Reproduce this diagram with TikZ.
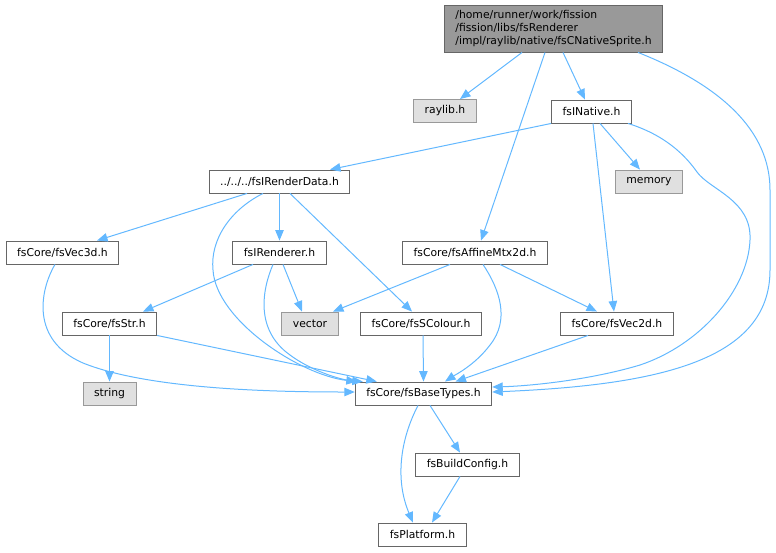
\documentclass[tikz,border=0pt]{standalone}
\usepackage{fontspec}
\setmainfont{DejaVu Sans}
\usetikzlibrary{arrows.meta}
\definecolor{cborder}{HTML}{666666}
\definecolor{cgrayb}{HTML}{999999}
\definecolor{cgrayf}{HTML}{E0E0E0}
\definecolor{croot}{HTML}{999999}
\definecolor{cedge}{HTML}{63B8FF}
\tikzset{
  box/.style={draw=cborder, fill=white, line width=0.9pt, font=\fontsize{10.8}{12.8}\selectfont,
    inner xsep=11pt, inner ysep=0pt, minimum height=23pt},
  graybox/.style={box, draw=cgrayb, fill=cgrayf},
  rootbox/.style={box, fill=croot, align=left, minimum height=47pt},
  dep/.style={draw=cedge, line width=1pt, -{Triangle[length=10.5pt,width=8.5pt]}}
}
\begin{document}
\begin{tikzpicture}[x=1pt,y=-1pt]
\useasboundingbox (0,0) rectangle (776,552);
% nodes
\node[rootbox] (root) at (553.5,28.5) {/home/runner/work/fission\\/fission/libs/fsRenderer\\/impl/raylib/native/fsCNativeSprite.h};
\node[graybox] (raylib) at (445,111) {raylib.h};
\node[box] (native) at (591.5,111.5) {fsINative.h};
\node[box] (rdata) at (279.5,181.5) {../../../fsIRenderData.h};
\node[graybox] (memory) at (649,181.5) {memory};
\node[box] (vec3d) at (62.5,252.5) {fsCore/fsVec3d.h};
\node[box] (renderer) at (279.5,252.5) {fsIRenderer.h};
\node[box] (affine) at (475,252.5) {fsCore/fsAffineMtx2d.h};
\node[box] (str) at (109.5,323.5) {fsCore/fsStr.h};
\node[graybox] (vector) at (310,323.5) {vector};
\node[box] (scolour) at (421,323.5) {fsCore/fsSColour.h};
\node[box] (vec2d) at (617,323.5) {fsCore/fsVec2d.h};
\node[graybox] (string) at (109.5,393.5) {string};
\node[box] (base) at (423.5,393.5) {fsCore/fsBaseTypes.h};
\node[box] (build) at (467.5,464.5) {fsBuildConfig.h};
\node[box] (platform) at (422.5,534.5) {fsPlatform.h};
% edges from root
\draw[dep] ([xshift=-31.5pt]root.south) -- ([xshift=15pt]raylib.north);
\draw[dep] ([xshift=9.5pt]root.south) -- ([xshift=-6.5pt]native.north);
\draw[dep] ([xshift=-8.5pt]root.south) -- ([xshift=6pt]affine.north);
\draw[dep] ([xshift=84.5pt]root.south) .. controls (720,85) and (770,130) .. (770,190)
  -- (770,270) .. controls (770,360) and (660,385) .. ([yshift=1.5pt]base.east);
% edges from fsINative
\draw[dep] (native.south west) -- ([xshift=50.5pt]rdata.north);
\draw[dep] ([xshift=8.5pt]native.south) -- ([xshift=-9pt]memory.north);
\draw[dep] ([xshift=1.5pt]native.south) -- ([xshift=-3pt]vec2d.north);
\draw[dep] ([xshift=36.5pt]native.south) .. controls (665,135) and (685,155) .. (697,172)
  .. controls (710,190) and (752,200) .. (750,240)
  .. controls (748,290) and (700,345) .. (640,365)
  .. controls (590,380) and (530,386) .. ([yshift=6.5pt]base.east);
% edges from fsIRenderData
\draw[dep] ([xshift=-32.5pt]rdata.south) -- ([xshift=34.5pt]vec3d.north);
\draw[dep] (rdata.south) -- (renderer.north);
\draw[dep] ([xshift=10.5pt]rdata.south) -- ([xshift=-9pt]scolour.north);
\draw[dep] ([xshift=-16.5pt]rdata.south) .. controls (230,210) and (210,240) .. (213,270)
  .. controls (216,320) and (300,375) .. ([xshift=2pt]base.north west);
% fsVec3d
\draw[dep] ([xshift=-7.5pt]vec3d.south) .. controls (40,290) and (30,340) .. (83,363)
  .. controls (150,390) and (280,392) .. ([yshift=1.5pt]base.west);
% fsIRenderer
\draw[dep] ([xshift=-26.5pt]renderer.south) -- ([xshift=33.5pt]str.north);
\draw[dep] ([xshift=3.5pt]renderer.south) -- ([xshift=-8pt]vector.north);
\draw[dep] ([xshift=-6.5pt]renderer.south) .. controls (262,290) and (255,330) .. (290,355)
  .. controls (310,370) and (340,380) .. ([xshift=8pt]base.north west);
% fsAffineMtx2d
\draw[dep] ([xshift=-25pt]affine.south) -- ([xshift=23pt]vector.north);
\draw[dep] ([xshift=8pt]affine.south) .. controls (500,290) and (510,320) .. (490,345)
  .. controls (475,365) and (455,375) .. ([xshift=21.5pt]base.north);
\draw[dep] ([xshift=25pt]affine.south) -- ([xshift=-20pt]vec2d.north);
% fsStr
\draw[dep] (str.south) -- (string.north);
\draw[dep] (str.south east) -- ([xshift=22pt]base.north west);
% fsSColour
\draw[dep] ([xshift=2pt]scolour.south) -- (base.north);
% fsVec2d
\draw[dep] ([xshift=-29pt]vec2d.south) -- ([xshift=32pt]base.north);
% fsBaseTypes
\draw[dep] ([xshift=6.5pt]base.south) -- ([xshift=-7.5pt]build.north);
\draw[dep] ([xshift=-5.5pt]base.south) .. controls (400,440) and (395,480) .. ([xshift=-9.5pt]platform.north);
\draw[dep] ([xshift=-7.5pt]build.south) -- ([xshift=9.5pt]platform.north);
\end{tikzpicture}
\end{document}
